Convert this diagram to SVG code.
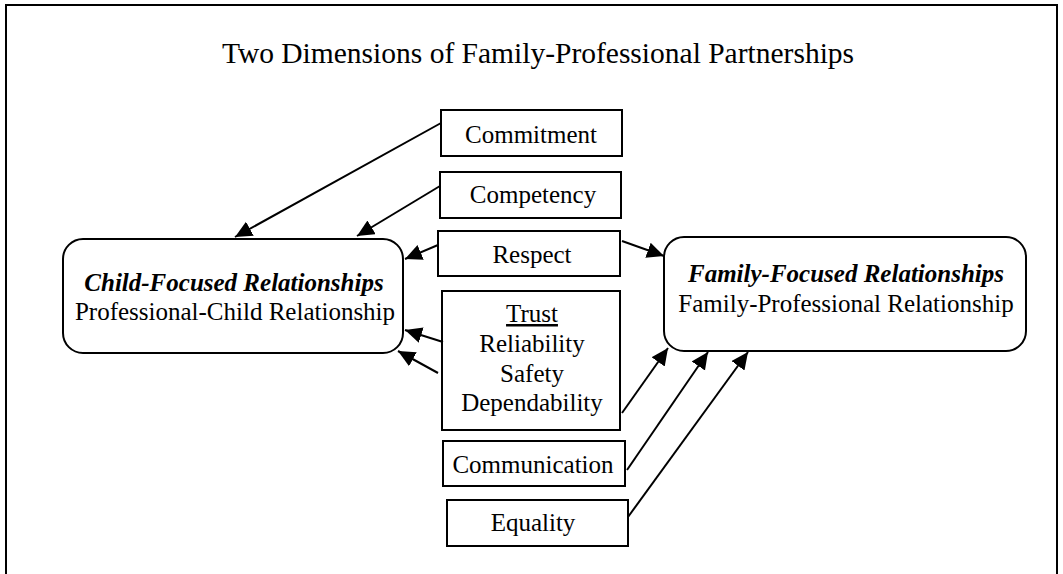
<svg xmlns="http://www.w3.org/2000/svg" width="1063" height="574" viewBox="0 0 1063 574">
<style>
.t{font-family:"Liberation Serif","Times New Roman",serif;fill:#000;text-anchor:middle}
.b{fill:#fff;stroke:#000;stroke-width:2}
.c line{stroke:#000;stroke-width:2}
</style>
<defs>
<marker id="ah" markerUnits="userSpaceOnUse" markerWidth="20" markerHeight="18" refX="17" refY="8" orient="auto">
<path d="M0,0 L17,8 L0,16 z" fill="#000"/>
</marker>
</defs>
<rect x="0" y="0" width="1063" height="574" fill="#fff"/>
<rect x="6" y="5" width="1051" height="620" fill="none" stroke="#000" stroke-width="2"/>
<text class="t" x="538" y="63" font-size="29.5">Two Dimensions of Family-Professional Partnerships</text>

<g id="child">
<rect class="b" x="63" y="239" width="340" height="114" rx="20"/>
<text class="t" x="234" y="291" font-size="25" font-weight="bold" font-style="italic">Child-Focused Relationships</text>
<text class="t" x="235" y="320" font-size="25">Professional-Child Relationship</text>
</g>
<g id="family">
<rect class="b" x="664" y="237" width="362" height="114" rx="20"/>
<text class="t" x="846" y="282" font-size="25" font-weight="bold" font-style="italic">Family-Focused Relationships</text>
<text class="t" x="846" y="312" font-size="25">Family-Professional Relationship</text>
</g>
<g id="commitment">
<rect class="b" x="441" y="110" width="181" height="46"/>
<text class="t" x="531" y="143" font-size="25">Commitment</text>
</g>
<g id="competency">
<rect class="b" x="440" y="172" width="181" height="46"/>
<text class="t" x="533" y="203" font-size="25">Competency</text>
</g>
<g id="respect">
<rect class="b" x="438" y="231" width="182" height="45"/>
<text class="t" x="532" y="263" font-size="25">Respect</text>
</g>
<g id="trust">
<rect class="b" x="442" y="291" width="178" height="139"/>
<text class="t" x="532" y="322" font-size="25" text-decoration="underline">Trust</text>
<text class="t" x="532" y="352" font-size="25">Reliability</text>
<text class="t" x="532" y="382" font-size="25">Safety</text>
<text class="t" x="532" y="411" font-size="25">Dependability</text>
</g>
<g id="communication">
<rect class="b" x="443" y="441" width="182" height="45"/>
<text class="t" x="533" y="473" font-size="25">Communication</text>
</g>
<g id="equality">
<rect class="b" x="447" y="500" width="181" height="46"/>
<text class="t" x="533" y="531" font-size="25">Equality</text>
</g>

<g id="connectors" class="c">
<line x1="441" y1="123" x2="235" y2="237" marker-end="url(#ah)"/>
<line x1="440" y1="186" x2="357" y2="236" marker-end="url(#ah)"/>
<line x1="438" y1="245" x2="405" y2="259" marker-end="url(#ah)"/>
<line x1="622" y1="241" x2="664" y2="256" marker-end="url(#ah)"/>
<line x1="443" y1="342" x2="405" y2="330" marker-end="url(#ah)"/>
<line x1="438" y1="373" x2="398" y2="351" marker-end="url(#ah)"/>
<line x1="622" y1="413" x2="668" y2="348" marker-end="url(#ah)"/>
<line x1="627" y1="470" x2="708" y2="352" marker-end="url(#ah)"/>
<line x1="628" y1="517" x2="748" y2="352" marker-end="url(#ah)"/>
</g>
</svg>
